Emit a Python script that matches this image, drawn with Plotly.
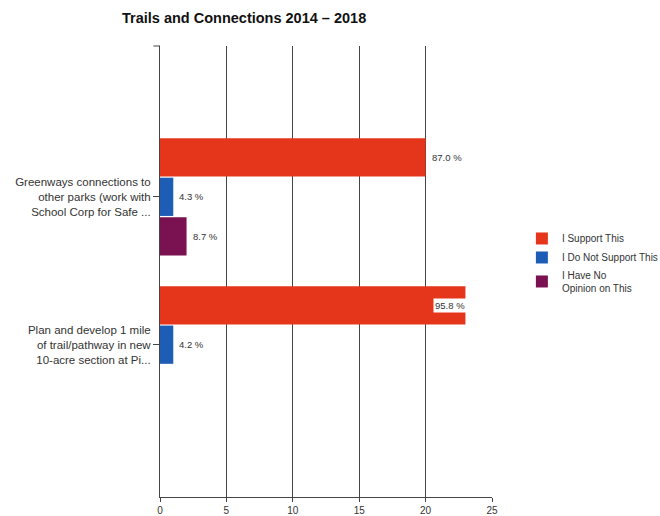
import plotly.graph_objects as go

# Survey responses (counts of respondents) per project
projects = [
    "Greenways connections to<br>other parks (work with<br>School Corp for Safe ...",
    "Plan and develop 1 mile<br>of trail/pathway in new<br>10-acre section at Pi...",
]
series_names = ["I Support This", "I Do Not Support This", "I Have No<br>Opinion on This"]
support = [20, 23]
not_support = [1, 1]
no_opinion = [2, 0]
x_ticks = [0, 5, 10, 15, 20, 25]

colors = ["#E5361C", "#1D5DB5", "#7A1150"]
series = [support, not_support, no_opinion]
totals = [sum(v) for v in zip(*series)]

FONT = "Liberation Sans, Arial, sans-serif"
X_MAX = 25

fig = go.Figure()
for name, vals, col in zip(series_names, series, colors):
    fig.add_trace(go.Bar(
        y=list(range(len(projects))), x=vals, name=name, orientation="h",
        marker=dict(color=col, line=dict(width=0)),
    ))

# Percentage labels next to each bar
n = len(series)
bar_w = 0.8 / n
for k, vals in enumerate(series):
    for i, v in enumerate(vals):
        if v == 0:
            continue
        pct = 100.0 * v / totals[i]
        yy = i + (k - (n - 1) / 2) * bar_w
        fits = v + 3.3 <= X_MAX
        fig.add_annotation(
            x=v, y=yy, xref="x", yref="y",
            text=f"{pct:.1f} %", showarrow=False,
            xanchor="left" if fits else "right",
            xshift=4 if fits else 2,
            bgcolor="white", borderpad=1,
            font=dict(family=FONT, size=9.5, color="#333333"),
        )

# small tick at the top end of the category axis
fig.add_shape(type="line", xref="paper", yref="paper", x0=-0.02, x1=0, y0=1, y1=1,
              line=dict(color="#444444", width=1))

fig.update_layout(
    width=660, height=516,
    margin=dict(l=160, r=168, t=46, b=19, autoexpand=False),
    paper_bgcolor="white", plot_bgcolor="white",
    barmode="group", bargap=0.2, bargroupgap=0.03,
    font=dict(family=FONT, size=10, color="#333333"),
    title=dict(text="<b>Trails and Connections 2014 – 2018</b>",
               x=122 / 660, xanchor="left", xref="container",
               y=(516 - 18) / 516, yanchor="middle", yref="container",
               font=dict(family=FONT, size=14.5, color="#111111")),
    showlegend=True,
    legend=dict(x=1.09, y=0.52, xanchor="left", yanchor="middle",
                font=dict(family=FONT, size=10, color="#333333"),
                bgcolor="rgba(0,0,0,0)", tracegroupgap=2, itemwidth=30),
    xaxis=dict(range=[0, X_MAX], tickvals=x_ticks, showgrid=True,
               gridcolor="#444444", gridwidth=1, zeroline=False,
               showline=True, linecolor="#444444", linewidth=1,
               ticks="outside", ticklen=4, tickcolor="#444444",
               tickfont=dict(family=FONT, size=10, color="#333333")),
    yaxis=dict(tickmode="array", tickvals=list(range(len(projects))),
               ticktext=projects, range=[2.03, -1.02],
               showline=True, linecolor="#444444", linewidth=1,
               ticks="outside", ticklen=6, tickcolor="#444444",
               showgrid=False, zeroline=False,
               tickfont=dict(family=FONT, size=11.5, color="#333333")),
)

fig.write_html("out.html")
